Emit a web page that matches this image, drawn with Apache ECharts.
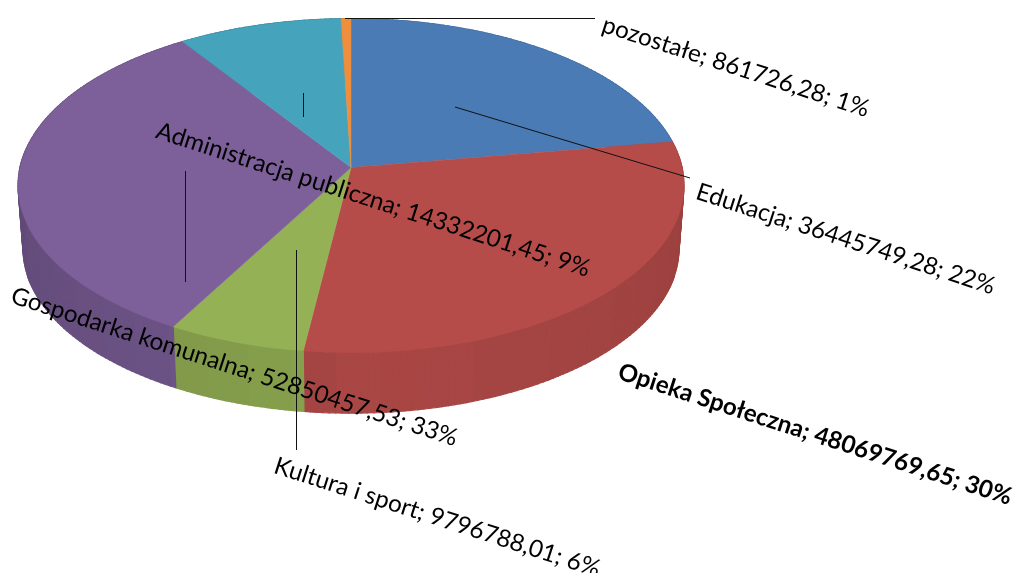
<!DOCTYPE html>
<html><head><meta charset="utf-8">
<style>html,body{margin:0;padding:0;background:#fff}#c{width:1013px;height:573px}</style>
<script src="https://cdn.jsdelivr.net/npm/echarts@6/dist/echarts.min.js"></script>
</head><body><div id="c"></div>
<script>
const categories = ['Edukacja','Opieka Społeczna','Kultura i sport','Gospodarka komunalna','Administracja publiczna','pozostałe'];
const values = [36445749.28,48069769.65,9796788.01,52850457.53,14332201.45,861726.28];
const colors = ['#4A7BB5','#B64C4A','#95B155','#7D5F9A','#45A3BC','#EE8F3D'];
const boldFlags = [false,true,false,false,false,false];
// label anchor (left, middle of text) and leader line for each slice
const labelAnchors = [[697,191],[619,371],[275,465],[12,295],[157,130],[603,24]];
const leaders = [[455,107,690,178],null,[296.5,250,296.5,450],[185.5,171,185.5,282],[303.5,93,303.5,117],[345,18.5,595,18.5]];

const FONT = 'Lato, "Open Sans", sans-serif', FS = 24.2, ROT = -17.9*Math.PI/180;
const CX=351, CY=167.6, B=331, A=165, K=-0.1078, BOT=0.985, DROP=63.4, STEP=Math.PI/180;
const total = values.reduce((a,b)=>a+b,0);
function proj(t){const u=Math.sin(t),v=-Math.cos(t),d=1+K*v;return [CX+B*u/d,CY+A*v/d];}
function projB(t){const p=proj(t);return [CX+(p[0]-CX)*BOT,CY+(p[1]-CY)*BOT+DROP];}
function shade(hex,f){const n=parseInt(hex.slice(1),16);
  const c=[n>>16,(n>>8)&255,n&255].map(x=>Math.round(x*f));return 'rgb('+c.join(',')+')';}
function wallFactor(t){const deg=Math.floor(t*180/Math.PI/7)*7+3.5;
  if(deg>=180) return 0.91-0.135*Math.min(1,(deg-180)/90);
  return 0.93-0.085*Math.min(1,(180-deg)/90);}
function fmt(v){return v.toFixed(2).replace('.',',');}
function renderItem(params,api){
  const i=params.dataIndex, val=api.value(1);
  let before=0; for(let k=0;k<i;k++) before+=values[k];
  const t0=before/total*2*Math.PI, t1=(before+val)/total*2*Math.PI;
  const children=[], col=colors[i];
  // side wall facets
  const n=Math.max(1,Math.ceil((t1-t0)/STEP));
  for(let j=0;j<n;j++){
    const a=t0+(t1-t0)*j/n,b=t0+(t1-t0)*(j+1)/n;
    const f=shade(col,wallFactor((a+b)/2));
    children.push({type:'polygon',z2:1,shape:{points:[proj(a),proj(b),projB(b),projB(a)]},
      style:{fill:f,stroke:f,lineWidth:1.2}});
  }
  // top face
  const pts=[[CX,CY]], m=Math.max(2,Math.ceil((t1-t0)/STEP));
  for(let j=0;j<=m;j++) pts.push(proj(t0+(t1-t0)*j/m));
  children.push({type:'polygon',z2:10,shape:{points:pts},style:{fill:col,stroke:col,lineWidth:0.5}});
  // leader line
  const L=leaders[i];
  if(L) children.push({type:'line',z2:20,shape:{x1:L[0],y1:L[1],x2:L[2],y2:L[3]},style:{stroke:'#111',lineWidth:1}});
  // label
  const pct=Math.round(val/total*100);
  const p=labelAnchors[i];
  children.push({type:'text',z2:30,x:p[0],y:p[1],rotation:ROT,
    style:{text:categories[i]+'; '+fmt(val)+'; '+pct+'%',x:0,y:0,align:'left',verticalAlign:'middle',
      fill:'#000',font:(boldFlags[i]?'bold ':'')+FS+'px '+FONT}});
  return {type:'group',children};
}
const chart=echarts.init(document.getElementById('c'),null,{renderer:'canvas'});
chart.setOption({
  animation:false,backgroundColor:'#fff',
  series:[{type:'custom',coordinateSystem:'none',renderItem,
    data:categories.map((c,i)=>({name:c,value:[i,values[i]]})),
    encode:{value:1},silent:true}]
});
</script></body></html>
